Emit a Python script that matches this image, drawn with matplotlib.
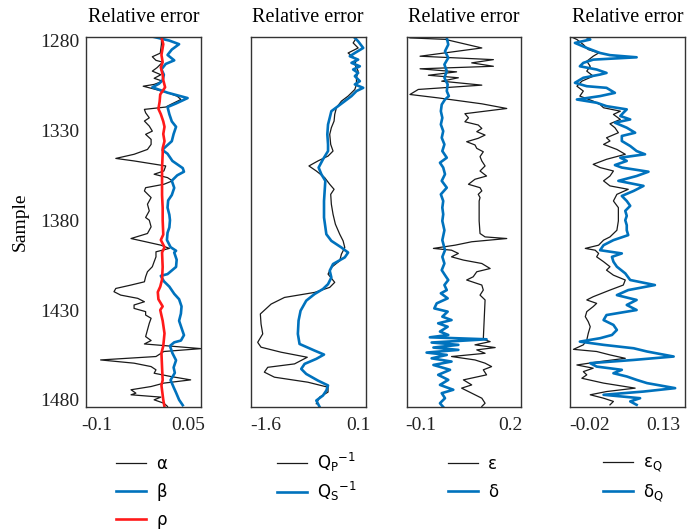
import numpy as np
import matplotlib
matplotlib.use('Agg')
import matplotlib.pyplot as plt

plt.rcParams['font.family'] = ['Liberation Serif', 'DejaVu Serif']
plt.rcParams['mathtext.fontset'] = 'dejavusans'

# %% data (sample index -> relative error)

# panel 1: alpha, beta, rho
alpha_s = [1278, 1282, 1287, 1289, 1291, 1292, 1295, 1297, 1299, 1301, 1302.6, 1304.4, 1305.4, 1306.7,
           1309, 1311, 1312.8, 1315.6, 1317, 1318.3, 1320.2, 1323, 1324.8, 1327.6, 1330.4, 1332.2, 1335,
           1337.8, 1340.6, 1343.3, 1345.6, 1347, 1349.8, 1352.6, 1354.4, 1356.3, 1358.1, 1360, 1361.9,
           1363.7, 1367.4, 1371.1, 1374.8, 1378.5, 1380, 1383.7, 1387.4, 1390.2, 1392, 1393.9, 1395.7,
           1397.6, 1400.4, 1403.1, 1405.9, 1408.7, 1411.5, 1414.3, 1416.1, 1418, 1419.8, 1421.7, 1423.5,
           1425.4, 1427.2, 1429.1, 1430.9, 1432.8, 1434.6, 1437.4, 1441.1, 1444.8, 1447, 1448.9, 1451.5,
           1453.1, 1455.9, 1457.8, 1459.6, 1461.5, 1463.3, 1465.2, 1467, 1468.9, 1470.7, 1472.6, 1474.4,
           1476.3, 1477.2, 1478.5, 1480, 1481.9, 1483.7]
alpha = [0.006, 0.006, 0.004, -0.009, -0.003, 0.008, -0.001, -0.009, 0.005, -0.006, 0.008, -0.006, -0.024,
         -0.009, 0.016, 0.032, 0.038, 0.021, 0.013, -0.022, -0.020, -0.014, -0.022, -0.014, -0.009, -0.020,
         -0.011, -0.011, -0.017, -0.039, -0.069, -0.039, 0.013, 0.010, -0.006, 0.016, 0.024, 0.010, -0.020,
         -0.022, -0.011, -0.017, -0.014, -0.020, -0.014, -0.011, -0.017, -0.044, -0.020, 0.005, 0.019,
         -0.003, -0.003, -0.006, -0.009, -0.017, -0.020, -0.022, -0.044, -0.069, -0.072, -0.061, -0.033,
         -0.022, -0.039, -0.039, -0.020, -0.020, -0.011, -0.014, -0.017, -0.020, -0.011, -0.022, 0.071,
         0.010, -0.003, -0.094, -0.039, -0.011, -0.003, -0.006, 0.021, 0.054, 0.010, -0.011, -0.044,
         -0.036, -0.044, 0.005, -0.006, 0.010, 0.016]

beta_s = [1278, 1280, 1282, 1285, 1288, 1291, 1293, 1296, 1299, 1302, 1304, 1306, 1309, 1311, 1312, 1315,
          1317, 1321, 1325, 1328, 1332, 1336, 1340, 1341, 1343, 1347, 1351, 1353, 1355, 1358, 1362, 1366,
          1369, 1373, 1377, 1380, 1384, 1387, 1391, 1395, 1397, 1398, 1402, 1406, 1410, 1411, 1414, 1417,
          1421, 1424, 1428, 1432, 1436, 1439, 1444, 1447, 1448, 1450, 1454, 1458, 1462, 1465, 1469, 1473,
          1476, 1480, 1483]
beta = [-0.006, 0.019, 0.035, 0.023, 0.016, 0.027, 0.013, 0.006, 0.010, 0.008, 0.002, -0.009, 0.016, 0.038,
        0.049, 0.030, 0.016, 0.019, 0.023, 0.030, 0.026, 0.023, 0.010, 0.008, 0.016, 0.024, 0.041, 0.043,
        0.032, 0.023, 0.027, 0.023, 0.017, 0.016, 0.019, 0.020, 0.019, 0.016, 0.015, 0.021, 0.030, 0.027,
        0.031, 0.030, 0.016, 0.005, 0.010, 0.019, 0.027, 0.035, 0.039, 0.038, 0.035, 0.038, 0.043, 0.038,
        0.027, 0.020, 0.024, 0.030, 0.026, 0.028, 0.021, 0.026, 0.030, 0.035, 0.041]

rho_s = [1278, 1282, 1288, 1292, 1295, 1299, 1302, 1306, 1310, 1314, 1318, 1321, 1325, 1328, 1332, 1336,
         1340, 1343, 1351, 1358, 1366, 1373, 1380, 1388, 1391, 1395, 1398, 1406, 1413, 1417, 1420, 1424,
         1428, 1430, 1436, 1443, 1450, 1454, 1462, 1469, 1472, 1480, 1484]
rho = [0.006, 0.009, 0.006, 0.008, 0.005, 0.008, 0.009, 0.012, 0.004, 0.003, 0.001, 0.005, 0.009, 0.011,
       0.009, 0.011, 0.008, 0.008, 0.007, 0.007, 0.007, 0.008, 0.008, 0.009, 0.005, 0.011, 0.007, 0.008,
       0.007, 0.004, 0.000, 0.001, 0.008, 0.004, 0.008, 0.011, 0.009, 0.006, 0.007, 0.008, 0.006, 0.009,
       0.011]

# panel 2: Qp^-1, Qs^-1
qp_s = [1278.5, 1281.3, 1284.1, 1286.9, 1290.6, 1293.3, 1297, 1300.7, 1304.4, 1307.2, 1310.9, 1313.7,
        1317.4, 1321.1, 1324.8, 1328.5, 1332.2, 1337.8, 1341.5, 1344.3, 1347, 1349.8, 1352.6, 1356.3, 1360,
        1362.8, 1365.6, 1371.1, 1376.7, 1382.2, 1387.8, 1391.5, 1395.2, 1398.9, 1402.6, 1406.3, 1410,
        1414.6, 1417.4, 1420.2, 1423, 1426.7, 1432.2, 1437.8, 1443.3, 1448, 1450.7, 1453.5, 1456.3, 1460,
        1461.9, 1464.6, 1467.4, 1470.2, 1473, 1475.7, 1478.5, 1482.2]
qp = [0.069, 0.008, 0.100, -0.085, 0.069, 0.039, 0.100, 0.069, 0.069, 0.039, -0.085, -0.208, -0.300,
      -0.331, -0.343, -0.393, -0.423, -0.405, -0.362, -0.454, -0.639, -0.805, -0.670, -0.516, -0.423,
      -0.343, -0.405, -0.393, -0.362, -0.319, -0.239, -0.177, -0.146, -0.208, -0.239, -0.393, -0.454,
      -0.331, -0.423, -0.701, -1.255, -1.501, -1.699, -1.686, -1.655, -1.748, -1.686, -1.317, -0.836,
      -1.070, -1.563, -1.625, -1.440, -0.824, -0.454, -0.454, -0.608, -0.670]

qs_s = [1278.5, 1280.4, 1284.1, 1286.9, 1288.7, 1290.6, 1292.4, 1294.3, 1296.1, 1298, 1299.8, 1302.6,
        1304.4, 1306.3, 1308.1, 1310.9, 1313.7, 1316.5, 1319.3, 1323, 1326.7, 1332.2, 1337.8, 1341.5,
        1346.1, 1350.7, 1354.4, 1358.1, 1363.7, 1369.3, 1378.5, 1387.8, 1391.5, 1395.2, 1398, 1400.7,
        1404.4, 1408.1, 1411.9, 1415.6, 1418.3, 1421.1, 1424.8, 1430.4, 1435.9, 1443.3, 1448.9, 1452.6,
        1454.8, 1457.2, 1460, 1462.8, 1465.6, 1469.3, 1472, 1474.8, 1477.6, 1480.4, 1484]
qs = [0.039, 0.100, 0.193, 0.039, -0.054, 0.100, -0.023, 0.131, 0.008, 0.100, 0.039, 0.131, 0.039, 0.193,
      0.069, -0.023, -0.146, -0.269, -0.393, -0.423, -0.454, -0.467, -0.454, -0.454, -0.547, -0.627,
      -0.577, -0.504, -0.516, -0.528, -0.528, -0.485, -0.393, -0.208, -0.085, -0.146, -0.362, -0.423,
      -0.393, -0.454, -0.547, -0.701, -0.855, -0.959, -0.996, -1.009, -0.978, -0.701, -0.528, -0.670,
      -0.885, -0.947, -0.855, -0.639, -0.454, -0.485, -0.547, -0.670, -0.608]

# panel 3: epsilon, delta
eps_s = [1278.5, 1279.3, 1284.1, 1288.7, 1290.6, 1292.4, 1294.3, 1295.7, 1297.4, 1299.3, 1300.7, 1302.6,
         1304.8, 1307.2, 1310, 1311.9, 1315.2, 1317.8, 1320.7, 1323, 1325.2, 1327, 1328.9, 1330.7, 1332.6,
         1334.4, 1336.3, 1338.1, 1340, 1341.9, 1344.6, 1347, 1349.8, 1352.6, 1355.4, 1357.2, 1360, 1361.9,
         1363.7, 1365.6, 1367.4, 1369.3, 1380.4, 1387.4, 1389.3, 1390.2, 1392, 1393.9, 1395.7, 1396.7,
         1398.5, 1400.4, 1402.2, 1404.1, 1406.9, 1408.7, 1411.5, 1413.3, 1416.1, 1418.9, 1421.7, 1424.4,
         1446.3, 1447.6, 1449.4, 1450.9, 1452.2, 1454.1, 1455.9, 1457.8, 1459.6, 1461.5, 1463.3, 1466.1,
         1468.9, 1471.7, 1473.5, 1476.3, 1479.1, 1481.9, 1483.7]
eps = [-0.137, -0.019, 0.105, -0.103, 0.144, 0.071, 0.144, -0.103, 0.020, -0.075, 0.026, -0.030, 0.105,
       -0.109, -0.137, -0.042, 0.105, 0.189, 0.048, 0.060, 0.048, 0.093, 0.105, 0.088, 0.116, 0.093, 0.054,
       0.082, 0.088, 0.110, 0.099, 0.105, 0.116, 0.099, 0.121, 0.082, 0.060, 0.099, 0.105, 0.093, 0.099,
       0.096, 0.096, 0.099, 0.116, 0.189, 0.071, 0.015, -0.058, 0.003, 0.026, 0.003, 0.043, 0.105, 0.133,
       0.088, 0.076, 0.054, 0.105, 0.110, 0.099, 0.116, 0.110, 0.133, 0.082, 0.150, 0.088, 0.116, 0.003,
       0.082, 0.116, 0.138, 0.110, 0.121, 0.043, 0.071, 0.037, 0.071, 0.105, 0.116, 0.105]

delta_s = [1278.5, 1282.2, 1285.9, 1289.6, 1293.3, 1297, 1300.7, 1304.4, 1308.1, 1310.9, 1312.8, 1315.6,
           1319.3, 1323, 1326.7, 1330.4, 1334.1, 1337.8, 1341.5, 1345.2, 1348, 1350.7, 1354.4, 1358.1,
           1361.9, 1365.6, 1369.3, 1373, 1376.7, 1380.4, 1385.6, 1391.1, 1396.7, 1400.4, 1404.1, 1407.8,
           1410.6, 1413.3, 1416.1, 1418.9, 1420.7, 1423.5, 1426.3, 1429.1, 1430.9, 1433.7, 1435.6, 1437.4,
           1439.3, 1442, 1443.9, 1445.2, 1446.3, 1448.1, 1449.4, 1450.9, 1452.2, 1453.7, 1455, 1456.9,
           1458.7, 1460.6, 1463.3, 1466.1, 1468.9, 1471.7, 1474.4, 1476.3, 1479.1, 1481.9, 1484]
delta = [-0.013, -0.008, -0.019, -0.008, -0.021, -0.013, -0.021, -0.010, -0.013, -0.006, -0.019, -0.030,
         -0.033, -0.028, -0.033, -0.025, -0.030, -0.021, -0.028, -0.013, -0.036, -0.025, -0.019, -0.030,
         -0.013, -0.033, -0.025, -0.028, -0.025, -0.028, -0.021, -0.028, -0.019, -0.028, -0.021, -0.030,
         -0.019, -0.008, -0.021, -0.013, -0.033, -0.010, -0.047, -0.055, -0.010, -0.028, 0.003, -0.042,
         -0.010, -0.036, -0.008, -0.070, 0.121, -0.064, 0.026, -0.058, 0.026, -0.081, -0.013, -0.064,
         0.003, -0.058, -0.002, -0.042, -0.008, -0.036, 0.009, -0.030, -0.019, -0.036, -0.025]

# panel 4: epsilon_Q, delta_Q
epsq_s = [1277.6, 1279.4, 1282.2, 1285, 1286.9, 1288.7, 1291.5, 1294.3, 1297, 1299.8, 1302.6, 1305.4,
          1308.1, 1310.9, 1313.7, 1315.6, 1317.4, 1319.3, 1321.1, 1323.9, 1326.3, 1328.5, 1331.3, 1334.1,
          1335.9, 1337.8, 1340.6, 1343.3, 1346.1, 1348.9, 1350.7, 1352.6, 1355.4, 1358.1, 1360.9, 1362.8,
          1365.6, 1369.3, 1373, 1380.4, 1385.6, 1389.3, 1391.1, 1393.9, 1395.7, 1396.7, 1398.5, 1400.4,
          1403.1, 1405.9, 1407.8, 1410.6, 1413.3, 1416.1, 1418.9, 1422.6, 1424.4, 1426.3, 1428.1, 1430.9,
          1433.7, 1436.5, 1439.3, 1443, 1446.7, 1449.4, 1451.9, 1453.1, 1455, 1456.9, 1458.7, 1460.6,
          1462.4, 1464.3, 1466.1, 1468, 1470.7, 1473.5, 1475.4, 1477.2, 1479.1, 1480.9, 1482.8]
epsq = [-0.060, -0.046, -0.033, -0.023, -0.002, -0.013, -0.026, -0.019, -0.026, -0.013, -0.036, -0.046,
        -0.033, -0.040, -0.013, 0.001, 0.008, 0.042, 0.028, 0.042, 0.021, 0.031, 0.038, 0.014, 0.021, 0.008,
        0.035, 0.052, 0.014, -0.013, 0.001, 0.028, 0.021, 0.008, 0.021, 0.058, 0.035, 0.028, 0.038, 0.038,
        0.035, 0.021, 0.008, -0.002, -0.029, -0.009, -0.002, -0.006, 0.008, 0.021, 0.014, 0.028, 0.052,
        0.048, 0.021, -0.013, -0.026, -0.006, -0.013, -0.026, -0.029, -0.023, -0.019, -0.023, -0.026,
        -0.033, -0.053, -0.006, 0.021, 0.052, 0.001, -0.046, -0.013, -0.033, -0.026, -0.036, 0.008, 0.072,
        0.014, -0.019, 0.008, 0.028, 0.021]

deltaq_s = [1278.1, 1279.4, 1281.3, 1284.1, 1286.9, 1288.1, 1289.3, 1290.6, 1292.4, 1294.3, 1296.1, 1298,
            1298.9, 1300.7, 1303.5, 1305.4, 1306.3, 1309.1, 1310.9, 1312.8, 1314.6, 1316.5, 1318.3, 1320.2,
            1322, 1323.9, 1325.7, 1328.5, 1331.3, 1333.1, 1335.9, 1338.7, 1341.5, 1343.3, 1345.2, 1347,
            1349.3, 1350.7, 1353, 1355.4, 1358.1, 1360.9, 1363.7, 1366.5, 1369.3, 1372, 1374.8, 1377.6, 1380,
            1382.8, 1385.6, 1388.3, 1391.1, 1393.9, 1396.7, 1398.5, 1400.4, 1403.1, 1405.9, 1409.6, 1413.3,
            1416.1, 1418.9, 1421.7, 1424.4, 1427.2, 1430, 1432.8, 1435.6, 1438.3, 1441.1, 1443.9, 1445.7,
            1447.6, 1449.4, 1451.3, 1453.1, 1455.9, 1457.8, 1459.6, 1461.5, 1463.3, 1465.2, 1467, 1468.9,
            1470.7, 1473.5, 1475.4, 1477.2, 1479.1, 1480.9, 1482.8]
deltaq = [-0.026, -0.019, -0.050, -0.026, 0.001, 0.021, 0.075, -0.013, -0.033, -0.040, -0.006, 0.014, 0.001,
          -0.033, -0.050, -0.026, 0.014, 0.031, 0.001, -0.046, -0.006, 0.014, 0.055, 0.048, 0.042, 0.062,
          0.031, 0.055, 0.072, 0.045, 0.045, 0.062, 0.075, 0.092, 0.042, 0.055, 0.031, 0.045, 0.099, 0.075,
          0.038, 0.089, 0.069, 0.045, 0.055, 0.062, 0.052, 0.055, 0.052, 0.055, 0.055, 0.058, 0.028, 0.008,
          0.001, 0.045, 0.025, 0.028, 0.035, 0.052, 0.062, 0.112, 0.058, 0.035, 0.075, 0.055, 0.075, 0.014,
          0.008, 0.028, 0.035, 0.025, 0.001, -0.040, 0.008, 0.069, 0.096, 0.150, 0.069, -0.019, -0.006,
          0.045, 0.028, 0.055, 0.075, 0.096, 0.153, 0.089, 0.008, 0.082, 0.062, 0.075]

xlims = [(-0.118, 0.071), (-1.88, 0.235), (-0.147, 0.237), (-0.061, 0.173)]
xticks = [[-0.1, 0.05], [-1.6, 0.1], [-0.1, 0.2], [-0.02, 0.13]]
xticklabels = [['-0.1', '0.05'], ['-1.6', '0.1'], ['-0.1', '0.2'], ['-0.02', '0.13']]

# %% plot

black = '#1a1a1a'
blue = '#0072BD'
red = '#FF1A1A'

fig = plt.figure(figsize=(6.9, 5.3), dpi=100)
lefts = [86, 250.5, 407, 569.5]
widths = [115, 115, 114, 115.5]
axes = [fig.add_axes([l / 690, 123 / 530, w / 690, 370 / 530]) for l, w in zip(lefts, widths)]
ax1, ax2, ax3, ax4 = axes

ax1.plot(alpha, alpha_s, color=black, lw=0.9, label='α')
ax1.plot(beta, beta_s, color=blue, lw=1.9, label='β')
ax1.plot(rho, rho_s, color=red, lw=1.9, label='ρ')

ax2.plot(qp, qp_s, color=black, lw=0.9, label=r'$\mathrm{Q_P}^{-1}$')
ax2.plot(qs, qs_s, color=blue, lw=1.9, label=r'$\mathrm{Q_S}^{-1}$')

ax3.plot(eps, eps_s, color=black, lw=0.9, label='ε')
ax3.plot(delta, delta_s, color=blue, lw=1.9, label='δ')

ax4.plot(epsq, epsq_s, color=black, lw=0.9, label=r'ε$_\mathrm{Q}$')
ax4.plot(deltaq, deltaq_s, color=blue, lw=1.9, label=r'δ$_\mathrm{Q}$')

# legend placement: left edge (px), top (px), row spacing
leg_x = [116, 277, 448, 603]
leg_top = [455, 451, 455, 454]
leg_gap = [0.6, 0.36, 0.6, 0.46]

for i, ax in enumerate(axes):
    ax.set_ylim(1484, 1278)
    ax.set_xlim(*xlims[i])
    ax.set_xticks(xticks[i])
    ax.set_xticklabels(xticklabels[i])
    ax.set_yticks([1280, 1330, 1380, 1430, 1480])
    ax.tick_params(length=0, labelsize=14, pad=7, colors='#222222')
    ax.tick_params(axis='y', pad=5)
    if i > 0:
        ax.set_yticklabels([])
    for sp in ax.spines.values():
        sp.set_color('#333333')
        sp.set_linewidth(1.0)
    ax.set_title('Relative error', fontsize=14.5, pad=11)
    ax.legend(loc='upper left', bbox_to_anchor=(leg_x[i] / 690, 1 - leg_top[i] / 530),
              bbox_transform=fig.transFigure, frameon=False, borderpad=0, borderaxespad=0,
              handlelength=1.8, handletextpad=0.6, labelspacing=leg_gap[i],
              prop={'family': 'DejaVu Sans', 'size': 12})

ax1.set_ylabel('Sample', fontsize=14, labelpad=8)

plt.savefig('out.png', dpi=100)
